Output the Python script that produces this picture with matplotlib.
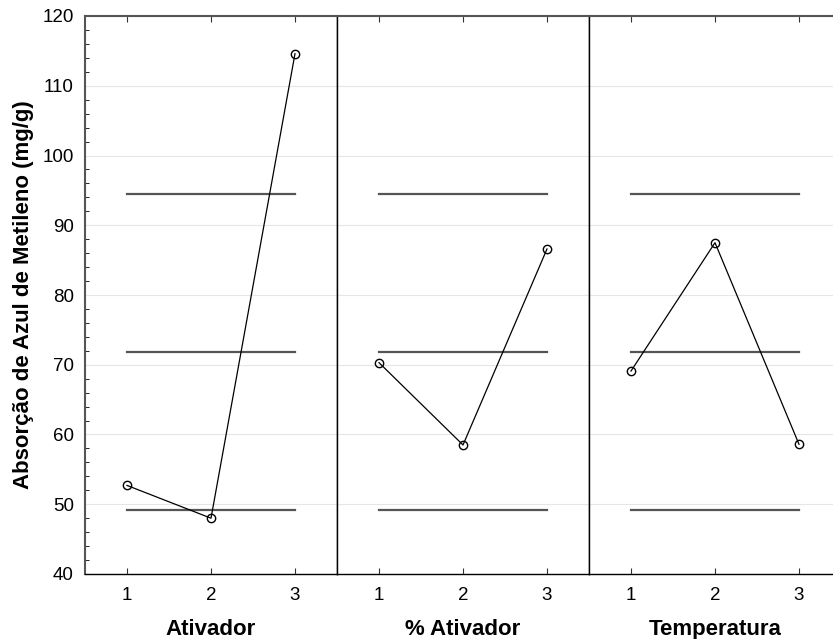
import matplotlib.pyplot as plt
import numpy as np

plt.rcParams['font.family'] = ['Liberation Sans', 'DejaVu Sans']

niveis = [1, 2, 3]
fatores = ['Ativador', '% Ativador', 'Temperatura']
medias = [
    [52.7, 48.0, 114.6],
    [70.3, 58.5, 86.6],
    [69.1, 87.5, 58.6],
]
# media geral e limites
ref_linhas = [94.5, 71.8, 49.2]

fig = plt.figure(figsize=(8.33, 6.39), dpi=100)
w = 252 / 833
for i, nome in enumerate(fatores):
    ax = fig.add_axes([85 / 833 + i * w, 65 / 639, w, 558 / 639])
    ax.set_xlim(0.5, 3.5)
    ax.set_ylim(40, 120)
    ax.set_yticks(np.arange(40, 121, 10))
    ax.set_yticks(np.arange(40, 121, 2), minor=True)
    ax.grid(True, axis='y', color='#e6e6e6', lw=0.8)
    ax.set_axisbelow(True)
    for r in ref_linhas:
        ax.plot([niveis[0], niveis[-1]], [r, r], color='#555555', lw=1.6)
    ax.plot(niveis, medias[i], color='black', lw=0.9, marker='o',
            ms=6, mfc='none', mec='black', mew=1.0)
    ax.set_xticks(niveis)
    ax.tick_params(axis='x', direction='in', top=True, length=4,
                   labelsize=13.5, pad=9, color='#333333')
    ax.set_xlabel(nome, fontsize=16, fontweight='bold', labelpad=11)
    for s in ax.spines.values():
        s.set_linewidth(1.0)
    if i == 0:
        ax.tick_params(axis='y', which='major', direction='in', length=0,
                       labelsize=13.5, pad=8)
        ax.tick_params(axis='y', which='minor', direction='in', length=3)
        ax.spines['left'].set_color('#555555')
        ax.spines['left'].set_linewidth(1.5)
        ax.set_ylabel('Absorção de Azul de Metileno (mg/g)', fontsize=16,
                      fontweight='bold', labelpad=6)
    else:
        ax.tick_params(axis='y', which='both', left=False, labelleft=False)
    ax.spines['top'].set_color('#555555')
    ax.spines['top'].set_linewidth(1.5)

plt.savefig('out.png', dpi=100)
